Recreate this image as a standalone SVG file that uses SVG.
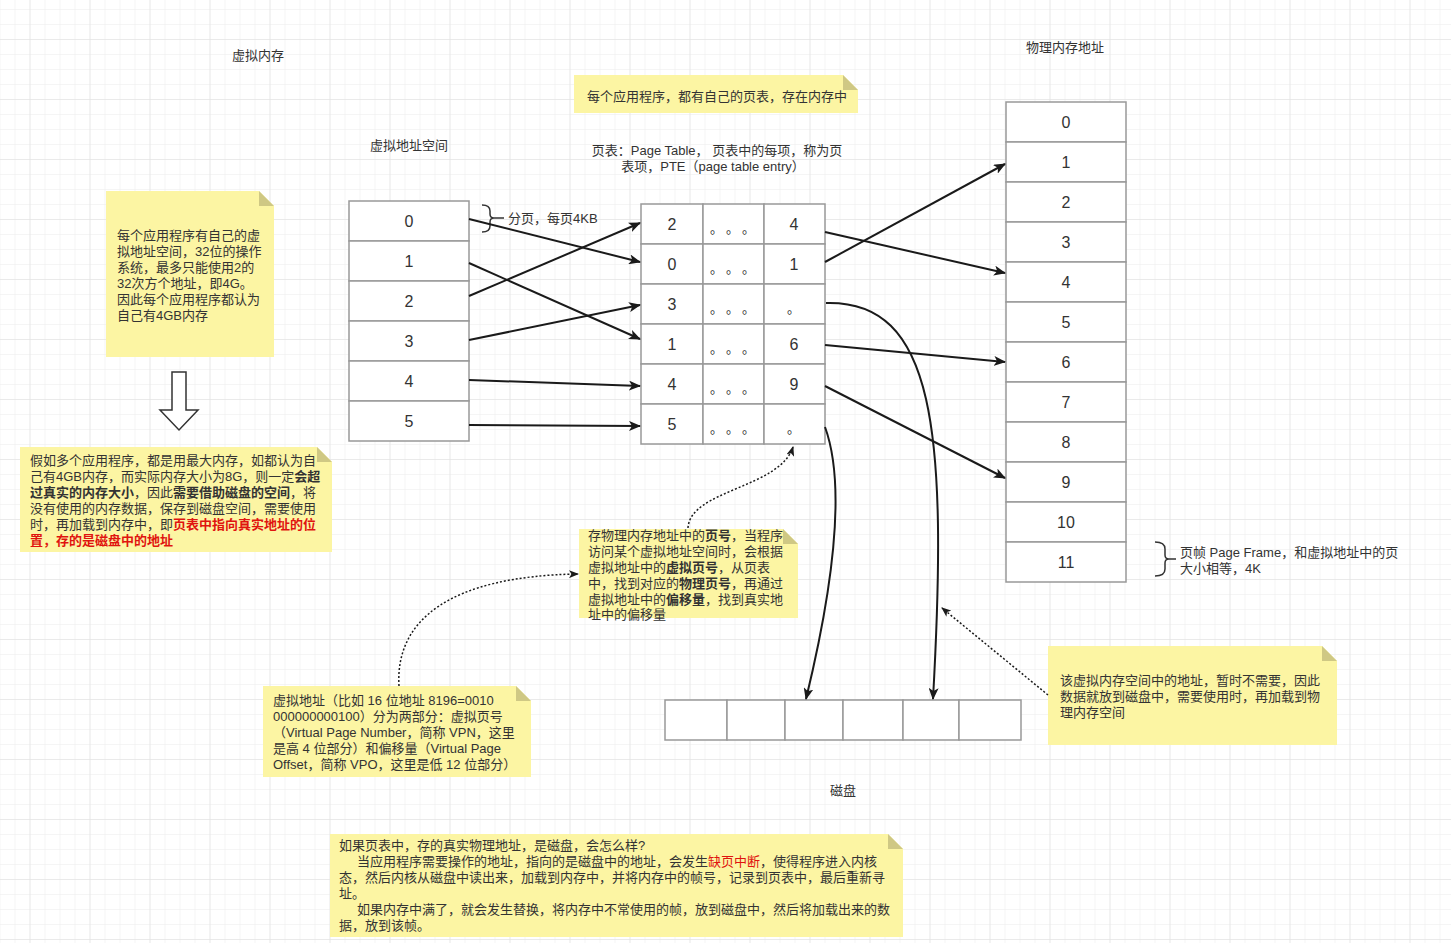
<svg xmlns="http://www.w3.org/2000/svg" width="1451" height="943" viewBox="0 0 1451 943">
<defs>
<pattern id="gmin" x="14.5" y="9" width="15" height="15" patternUnits="userSpaceOnUse">
<path d="M0,0 H15 M0,0 V15" fill="none" stroke="#ececec" stroke-width="1"/>
</pattern>
<pattern id="gmaj" x="29.5" y="39" width="60" height="60" patternUnits="userSpaceOnUse">
<path d="M0,0 H60 M0,0 V60" fill="none" stroke="#e0e0e0" stroke-width="1"/>
</pattern>
<marker id="ah" viewBox="0 0 12 10" refX="11" refY="5" markerWidth="12" markerHeight="10" markerUnits="userSpaceOnUse" orient="auto">
<path d="M0,0 L12,5 L0,10 L3,5 Z" fill="#1a1a1a"/>
</marker>
<marker id="ahs" viewBox="0 0 10 8" refX="9" refY="4" markerWidth="10" markerHeight="8" markerUnits="userSpaceOnUse" orient="auto">
<path d="M0,0 L10,4 L0,8 L2.5,4 Z" fill="#1a1a1a"/>
</marker>
</defs>
<style>
text{font-family:"Liberation Sans","Noto Sans CJK SC",sans-serif;fill:#333;}
.t13{font-size:13px;}
.dots{font-family:"Noto Sans CJK SC",sans-serif;font-size:13px;}
.num{font-size:16px;text-anchor:middle;}
.cell{fill:#fff;stroke:#999;stroke-width:1.5;}
.note{fill:#fcf5a3;}
.fold{fill:#cfc884;}
.b{font-weight:bold;}
.r{fill:#e0140f;font-weight:bold;}
.rr{fill:#e0140f;}
.conn{fill:none;stroke:#1a1a1a;stroke-width:2;marker-end:url(#ah);}
.dot{fill:none;stroke:#1a1a1a;stroke-width:1.5;stroke-dasharray:2 2;marker-end:url(#ahs);}
.brace{fill:none;stroke:#333;stroke-width:1.5;}
</style>
<rect x="0" y="0" width="1451" height="943" fill="#fff"/>
<rect x="0" y="0" width="1451" height="943" fill="url(#gmin)"/>
<rect x="0" y="0" width="1451" height="943" fill="url(#gmaj)"/>

<g id="labels">
<text class="t13" x="258" y="60" text-anchor="middle">虚拟内存</text>
<text class="t13" x="1065" y="52" text-anchor="middle">物理内存地址</text>
<text class="t13" x="409" y="150" text-anchor="middle">虚拟地址空间</text>
<text class="t13" x="717" y="155" text-anchor="middle">页表：Page Table， 页表中的每项，称为页</text>
<text class="t13" x="713" y="171" text-anchor="middle">表项，PTE（page table entry）</text>
<text class="t13" x="843" y="795" text-anchor="middle">磁盘</text>
</g>

<g id="virtual-space">
<rect class="cell" x="349" y="201" width="120" height="40"/>
<rect class="cell" x="349" y="241" width="120" height="40"/>
<rect class="cell" x="349" y="281" width="120" height="40"/>
<rect class="cell" x="349" y="321" width="120" height="40"/>
<rect class="cell" x="349" y="361" width="120" height="40"/>
<rect class="cell" x="349" y="401" width="120" height="40"/>
<text class="num" x="409" y="227">0</text>
<text class="num" x="409" y="267">1</text>
<text class="num" x="409" y="307">2</text>
<text class="num" x="409" y="347">3</text>
<text class="num" x="409" y="387">4</text>
<text class="num" x="409" y="427">5</text>
</g>

<g id="page-table">
<rect class="cell" x="641" y="204" width="62" height="40"/><rect class="cell" x="703" y="204" width="61" height="40"/><rect class="cell" x="764" y="204" width="61" height="40"/>
<rect class="cell" x="641" y="244" width="62" height="40"/><rect class="cell" x="703" y="244" width="61" height="40"/><rect class="cell" x="764" y="244" width="61" height="40"/>
<rect class="cell" x="641" y="284" width="62" height="40"/><rect class="cell" x="703" y="284" width="61" height="40"/><rect class="cell" x="764" y="284" width="61" height="40"/>
<rect class="cell" x="641" y="324" width="62" height="40"/><rect class="cell" x="703" y="324" width="61" height="40"/><rect class="cell" x="764" y="324" width="61" height="40"/>
<rect class="cell" x="641" y="364" width="62" height="40"/><rect class="cell" x="703" y="364" width="61" height="40"/><rect class="cell" x="764" y="364" width="61" height="40"/>
<rect class="cell" x="641" y="404" width="62" height="40"/><rect class="cell" x="703" y="404" width="61" height="40"/><rect class="cell" x="764" y="404" width="61" height="40"/>
<text class="num" x="672" y="230">2</text>
<text class="num" x="672" y="270">0</text>
<text class="num" x="672" y="310">3</text>
<text class="num" x="672" y="350">1</text>
<text class="num" x="672" y="390">4</text>
<text class="num" x="672" y="430">5</text>
<text class="num" x="794" y="230">4</text>
<text class="num" x="794" y="270">1</text>
<text class="num" x="794" y="350">6</text>
<text class="num" x="794" y="390">9</text>
<text class="dots" x="710 726 742" y="233">。。。</text>
<text class="dots" x="710 726 742" y="273">。。。</text>
<text class="dots" x="710 726 742" y="313">。。。</text>
<text class="dots" x="710 726 742" y="353">。。。</text>
<text class="dots" x="710 726 742" y="393">。。。</text>
<text class="dots" x="710 726 742" y="433">。。。</text>
<text class="dots" x="787" y="313">。</text>
<text class="dots" x="787" y="433">。</text>
</g>

<g id="physical-memory">
<rect class="cell" x="1006" y="102" width="120" height="40"/>
<rect class="cell" x="1006" y="142" width="120" height="40"/>
<rect class="cell" x="1006" y="182" width="120" height="40"/>
<rect class="cell" x="1006" y="222" width="120" height="40"/>
<rect class="cell" x="1006" y="262" width="120" height="40"/>
<rect class="cell" x="1006" y="302" width="120" height="40"/>
<rect class="cell" x="1006" y="342" width="120" height="40"/>
<rect class="cell" x="1006" y="382" width="120" height="40"/>
<rect class="cell" x="1006" y="422" width="120" height="40"/>
<rect class="cell" x="1006" y="462" width="120" height="40"/>
<rect class="cell" x="1006" y="502" width="120" height="40"/>
<rect class="cell" x="1006" y="542" width="120" height="40"/>
<text class="num" x="1066" y="128">0</text>
<text class="num" x="1066" y="168">1</text>
<text class="num" x="1066" y="208">2</text>
<text class="num" x="1066" y="248">3</text>
<text class="num" x="1066" y="288">4</text>
<text class="num" x="1066" y="328">5</text>
<text class="num" x="1066" y="368">6</text>
<text class="num" x="1066" y="408">7</text>
<text class="num" x="1066" y="448">8</text>
<text class="num" x="1066" y="488">9</text>
<text class="num" x="1066" y="528">10</text>
<text class="num" x="1066" y="568">11</text>
</g>

<g id="disk">
<rect class="cell" x="665" y="700" width="62" height="40"/>
<rect class="cell" x="727" y="700" width="58" height="40"/>
<rect class="cell" x="785" y="700" width="58" height="40"/>
<rect class="cell" x="843" y="700" width="60" height="40"/>
<rect class="cell" x="903" y="700" width="56" height="40"/>
<rect class="cell" x="959" y="700" width="62" height="40"/>
</g>

<g id="brace-page">
<path class="brace" d="M482,205 Q490,205 490,211 L490,214 Q490,218 494,218 Q490,218 490,222 L490,226 Q490,232 482,232 M494,218 L504,218"/>
<text class="t13" x="508" y="223">分页，每页4KB</text>
</g>

<g id="brace-frame">
<path class="brace" d="M1155,542 Q1165,542 1165,549 L1165,555 Q1165,559 1169,559 Q1165,559 1165,563 L1165,569 Q1165,576 1155,576 M1169,559 L1176,559"/>
<text class="t13" x="1180" y="557">页帧 Page Frame，和虚拟地址中的页</text>
<text class="t13" x="1180" y="573">大小相等，4K</text>
</g>

<g id="down-arrow">
<polygon points="172,372 186,372 186,410 198,410 179,430 160,410 172,410" fill="#fff" stroke="#333" stroke-width="1.5"/>
</g>

<g id="note-vas">
<path class="note" d="M106,191 H259 L274,206 V357 H106 Z"/>
<path class="fold" d="M259,191 V206 H274 Z"/>
<text class="t13" x="117" y="240">每个应用程序有自己的虚</text>
<text class="t13" x="117" y="256">拟地址空间，32位的操作</text>
<text class="t13" x="117" y="272">系统，最多只能使用2的</text>
<text class="t13" x="117" y="288">32次方个地址，即4G。</text>
<text class="t13" x="117" y="304">因此每个应用程序都认为</text>
<text class="t13" x="117" y="320">自己有4GB内存</text>
</g>

<g id="note-disk">
<path class="note" d="M20,447 H317 L332,462 V552 H20 Z"/>
<path class="fold" d="M317,447 V462 H332 Z"/>
<text class="t13" x="30" y="465">假如多个应用程序，都是用最大内存，如都认为自</text>
<text class="t13" x="30" y="481">己有4GB内存，而实际内存大小为8G，则一定<tspan class="b">会超</tspan></text>
<text class="t13" x="30" y="497"><tspan class="b">过真实的内存大小</tspan>，因此<tspan class="b">需要借助磁盘的空间</tspan>，将</text>
<text class="t13" x="30" y="513">没有使用的内存数据，保存到磁盘空间，需要使用</text>
<text class="t13" x="30" y="529">时，再加载到内存中，即<tspan class="r">页表中指向真实地址的位</tspan></text>
<text class="t13" x="30" y="545"><tspan class="r">置，存的是磁盘中的地址</tspan></text>
</g>

<g id="note-pagetable">
<path class="note" d="M574,75 H843 L858,90 V113 H574 Z"/>
<path class="fold" d="M843,75 V90 H858 Z"/>
<text class="t13" x="587" y="101">每个应用程序，都有自己的页表，存在内存中</text>
</g>

<g id="note-translate">
<path class="note" d="M579,529 H783 L798,544 V618 H579 Z"/>
<path class="fold" d="M783,529 V544 H798 Z"/>
<text class="t13" x="588" y="540">存物理内存地址中的<tspan class="b">页号</tspan>，当程序</text>
<text class="t13" x="588" y="556">访问某个虚拟地址空间时，会根据</text>
<text class="t13" x="588" y="572">虚拟地址中的<tspan class="b">虚拟页号</tspan>，从页表</text>
<text class="t13" x="588" y="588">中，找到对应的<tspan class="b">物理页号</tspan>，再通过</text>
<text class="t13" x="588" y="604">虚拟地址中的<tspan class="b">偏移量</tspan>，找到真实地</text>
<text class="t13" x="588" y="619">址中的偏移量</text>
</g>

<g id="note-address">
<path class="note" d="M263,686 H516 L531,701 V777 H263 Z"/>
<path class="fold" d="M516,686 V701 H531 Z"/>
<text class="t13" x="273" y="705">虚拟地址（比如 16 位地址 8196=0010</text>
<text class="t13" x="273" y="721">000000000100）分为两部分：虚拟页号</text>
<text class="t13" x="273" y="737">（Virtual Page Number，简称 VPN，这里</text>
<text class="t13" x="273" y="753">是高 4 位部分）和偏移量（Virtual Page</text>
<text class="t13" x="273" y="769">Offset，简称 VPO，这里是低 12 位部分）</text>
</g>

<g id="note-swap">
<path class="note" d="M1048,646 H1322 L1337,661 V745 H1048 Z"/>
<path class="fold" d="M1322,646 V661 H1337 Z"/>
<text class="t13" x="1060" y="685">该虚拟内存空间中的地址，暂时不需要，因此</text>
<text class="t13" x="1060" y="701">数据就放到磁盘中，需要使用时，再加载到物</text>
<text class="t13" x="1060" y="717">理内存空间</text>
</g>

<g id="note-pagefault">
<path class="note" d="M330,834 H888 L903,849 V937 H330 Z"/>
<path class="fold" d="M888,834 V849 H903 Z"/>
<text class="t13" x="339" y="850">如果页表中，存的真实物理地址，是磁盘，会怎么样?</text>
<text class="t13" x="357" y="866">当应用程序需要操作的地址，指向的是磁盘中的地址，会发生<tspan class="rr">缺页中断</tspan>，使得程序进入内核</text>
<text class="t13" x="339" y="882">态，然后内核从磁盘中读出来，加载到内存中，并将内存中的帧号，记录到页表中，最后重新寻</text>
<text class="t13" x="339" y="898">址。</text>
<text class="t13" x="357" y="914">如果内存中满了，就会发生替换，将内存中不常使用的帧，放到磁盘中，然后将加载出来的数</text>
<text class="t13" x="339" y="930">据，放到该帧。</text>
</g>

<g id="connectors">
<path class="conn" d="M469,219 L640,262"/>
<path class="conn" d="M469,263 L640,339"/>
<path class="conn" d="M469,296 L640,223"/>
<path class="conn" d="M469,340 L640,305"/>
<path class="conn" d="M469,380 L640,386"/>
<path class="conn" d="M469,425 L640,426"/>
<path class="conn" d="M825,232 L1005,273"/>
<path class="conn" d="M825,262 L1005,164"/>
<path class="conn" d="M825,345 L1005,362"/>
<path class="conn" d="M825,386 L1005,478"/>
<path class="conn" d="M826,303 C935,300 948,430 933,699"/>
<path class="conn" d="M825,427 C848,490 830,600 806,699"/>
<path class="dot" d="M688,528 C690,490 780,488 793,447"/>
<path class="dot" d="M399,686 C395,620 450,576 578,574"/>
<path class="dot" d="M1048,695 L942,608"/>
</g>
</svg>
